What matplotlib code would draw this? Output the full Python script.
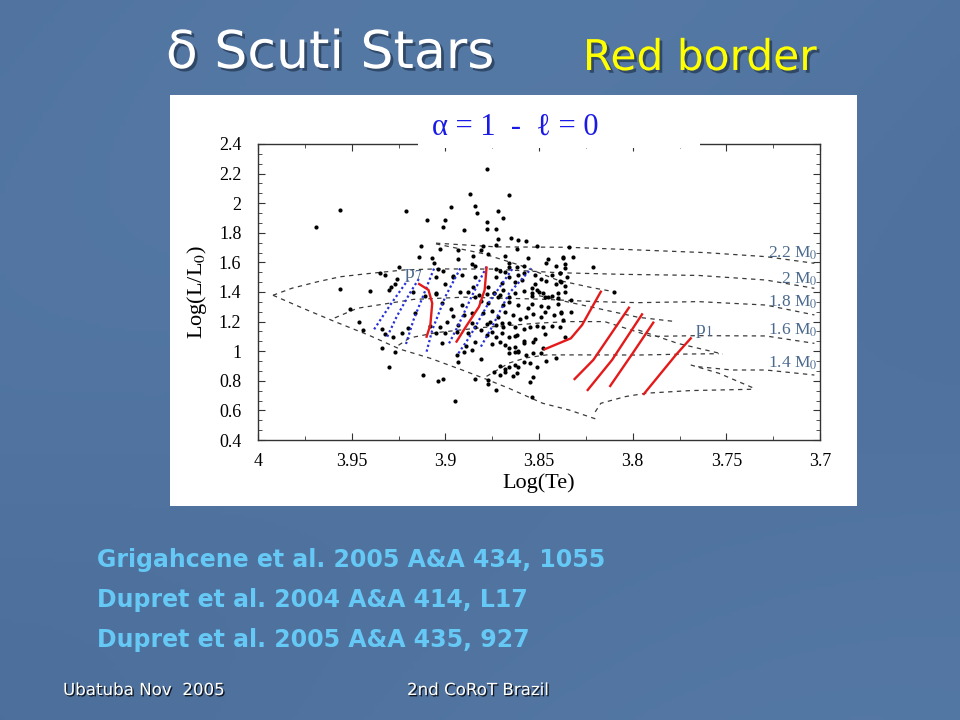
import numpy as np
import matplotlib
matplotlib.use("Agg")
import matplotlib.pyplot as plt
import matplotlib.patheffects as pe
from matplotlib.patches import Rectangle
from matplotlib.ticker import MultipleLocator, FormatStrFormatter

plt.rcParams['mathtext.fontset'] = 'stix'
SERIF = ['Liberation Serif', 'DejaVu Serif']

# observed delta Scuti stars (log Te, log L/Lsun), grouped by region of the diagram
stars_left = [(3.956, 1.956), (3.969, 1.839), (3.921, 1.949), (3.925, 1.571), (3.935, 1.526),
              (3.932, 1.515), (3.926, 1.486), (3.927, 1.454), (3.929, 1.436), (3.930, 1.414),
              (3.956, 1.418), (3.940, 1.409), (3.951, 1.287), (3.946, 1.199), (3.944, 1.143),
              (3.934, 1.148), (3.932, 1.114), (3.928, 1.096), (3.934, 1.020), (3.927, 0.993),
              (3.930, 0.895), (3.923, 1.121), (3.920, 1.159), (3.916, 1.256)]
stars_top = [(3.878, 2.229), (3.887, 2.064), (3.866, 2.053), (3.897, 1.972), (3.884, 1.981),
             (3.883, 1.932), (3.872, 1.947), (3.869, 1.902), (3.910, 1.884), (3.900, 1.886),
             (3.901, 1.841), (3.878, 1.871), (3.890, 1.819), (3.878, 1.824), (3.873, 1.824),
             (3.872, 1.760), (3.865, 1.765), (3.861, 1.751), (3.857, 1.742), (3.851, 1.711),
             (3.913, 1.713), (3.903, 1.689), (3.893, 1.684), (3.880, 1.713), (3.873, 1.716),
             (3.881, 1.684), (3.862, 1.689)]
stars_upper = [(3.914, 1.639), (3.907, 1.628), (3.893, 1.625), (3.885, 1.645), (3.877, 1.657),
               (3.868, 1.645), (3.856, 1.628), (3.845, 1.625), (3.837, 1.634), (3.906, 1.598),
               (3.886, 1.589), (3.884, 1.576), (3.866, 1.598), (3.862, 1.571), (3.858, 1.576),
               (3.846, 1.598), (3.841, 1.576), (3.836, 1.589), (3.904, 1.557), (3.901, 1.544),
               (3.896, 1.508), (3.891, 1.515), (3.905, 1.499), (3.900, 1.454), (3.896, 1.499),
               (3.873, 1.553), (3.871, 1.542), (3.866, 1.567), (3.868, 1.537), (3.873, 1.503),
               (3.866, 1.499), (3.861, 1.515), (3.858, 1.530), (3.863, 1.470), (3.859, 1.481),
               (3.852, 1.515), (3.849, 1.486), (3.852, 1.454), (3.846, 1.476), (3.843, 1.515),
               (3.839, 1.530), (3.841, 1.454), (3.838, 1.470), (3.835, 1.503), (3.870, 1.459),
               (3.877, 1.432), (3.874, 1.395), (3.869, 1.414), (3.872, 1.368), (3.854, 1.425),
               (3.851, 1.414), (3.848, 1.391), (3.854, 1.373), (3.845, 1.368), (3.840, 1.395),
               (3.884, 1.503), (3.885, 1.436), (3.882, 1.380), (3.892, 1.402), (3.905, 1.391)]
stars_core = [(3.917, 1.402), (3.911, 1.375), (3.905, 1.384), (3.888, 1.402), (3.884, 1.368),
              (3.878, 1.386), (3.874, 1.395), (3.871, 1.380), (3.866, 1.364), (3.863, 1.391),
              (3.858, 1.407), (3.854, 1.391), (3.850, 1.402), (3.847, 1.368), (3.843, 1.373),
              (3.840, 1.357), (3.836, 1.402), (3.902, 1.323), (3.897, 1.285), (3.891, 1.312),
              (3.881, 1.341), (3.877, 1.323), (3.869, 1.312), (3.866, 1.335), (3.861, 1.312),
              (3.856, 1.290), (3.854, 1.319), (3.849, 1.305), (3.845, 1.301), (3.840, 1.319),
              (3.838, 1.260), (3.896, 1.238), (3.890, 1.245), (3.886, 1.260), (3.880, 1.256),
              (3.875, 1.274), (3.872, 1.233), (3.868, 1.267), (3.864, 1.245), (3.860, 1.215),
              (3.857, 1.233), (3.853, 1.251), (3.849, 1.233), (3.847, 1.267), (3.842, 1.245),
              (3.908, 1.170), (3.903, 1.166), (3.899, 1.200), (3.893, 1.177), (3.886, 1.193),
              (3.884, 1.166), (3.878, 1.184), (3.876, 1.200), (3.873, 1.177), (3.870, 1.188),
              (3.869, 1.166), (3.866, 1.193), (3.863, 1.166), (3.858, 1.148), (3.855, 1.161),
              (3.851, 1.170), (3.848, 1.161), (3.843, 1.170), (3.839, 1.166), (3.905, 1.125),
              (3.900, 1.121), (3.894, 1.132), (3.888, 1.125), (3.881, 1.143), (3.878, 1.109),
              (3.875, 1.132), (3.873, 1.098), (3.870, 1.121), (3.866, 1.098), (3.863, 1.103),
              (3.862, 1.109), (3.858, 1.071), (3.852, 1.080), (3.847, 1.116)]
stars_lower = [(3.902, 1.058), (3.889, 1.035), (3.884, 1.064), (3.875, 1.049), (3.871, 1.064),
               (3.868, 1.042), (3.866, 1.019), (3.863, 1.031), (3.861, 1.004), (3.858, 1.058),
               (3.853, 1.064), (3.848, 1.019), (3.894, 0.974), (3.890, 0.997), (3.886, 1.008),
               (3.881, 0.945), (3.866, 0.986), (3.863, 0.997), (3.861, 0.997), (3.857, 0.974),
               (3.853, 0.986), (3.849, 0.990), (3.846, 0.936), (3.841, 0.952), (3.893, 0.929),
               (3.871, 0.900), (3.868, 0.877), (3.866, 0.891), (3.863, 0.907), (3.861, 0.891),
               (3.858, 0.929), (3.855, 0.918), (3.851, 0.896), (3.912, 0.839), (3.904, 0.799),
               (3.901, 0.810), (3.884, 0.812), (3.877, 0.805), (3.874, 0.862), (3.871, 0.839),
               (3.868, 0.862), (3.864, 0.832), (3.862, 0.850), (3.853, 0.823), (3.855, 0.794),
               (3.877, 0.778), (3.873, 0.738), (3.895, 0.666), (3.854, 0.693)]
stars_right = [(3.834, 1.702), (3.837, 1.627), (3.832, 1.634), (3.839, 1.526), (3.836, 1.560),
               (3.839, 1.477), (3.836, 1.441), (3.821, 1.571), (3.833, 1.346), (3.838, 1.267),
               (3.833, 1.267), (3.837, 1.211), (3.836, 1.094), (3.810, 1.402)]

# evolutionary tracks and ZAMS (dashed)
zams = [(3.992, 1.378), (3.976, 1.290), (3.959, 1.200), (3.941, 1.109), (3.924, 1.013),
        (3.908, 0.952), (3.891, 0.873), (3.878, 0.810), (3.866, 0.749), (3.848, 0.648),
        (3.834, 0.603), (3.818, 0.535)]
track_22 = [(3.905, 1.730), (3.873, 1.705), (3.834, 1.702), (3.797, 1.684), (3.761, 1.666),
            (3.729, 1.639), (3.703, 1.594)]
track_22_end = [(3.905, 1.725), (3.880, 1.660), (3.860, 1.580), (3.840, 1.480), (3.822, 1.430),
                (3.810, 1.402)]
track_20 = [(3.992, 1.378), (3.982, 1.425), (3.968, 1.470), (3.956, 1.503), (3.943, 1.522),
            (3.922, 1.549), (3.905, 1.556), (3.875, 1.555), (3.839, 1.530), (3.804, 1.519),
            (3.765, 1.512), (3.729, 1.481), (3.703, 1.425)]
track_18 = [(3.959, 1.225), (3.947, 1.290), (3.936, 1.312), (3.917, 1.350), (3.890, 1.365),
            (3.850, 1.352), (3.820, 1.335), (3.797, 1.328), (3.765, 1.335), (3.729, 1.312),
            (3.703, 1.245)]
track_18_end = [(3.850, 1.375), (3.823, 1.301), (3.797, 1.229), (3.777, 1.200)]
track_16 = [(3.925, 1.040), (3.919, 1.090), (3.905, 1.125), (3.880, 1.160), (3.850, 1.190),
            (3.834, 1.200), (3.815, 1.200), (3.790, 1.100), (3.765, 1.105), (3.729, 1.103),
            (3.703, 1.053)]
track_16_end = [(3.797, 1.143), (3.776, 1.053), (3.752, 0.981)]
track_14 = [(3.878, 0.830), (3.866, 0.920), (3.857, 0.955), (3.846, 0.975), (3.820, 0.975),
            (3.797, 0.974), (3.770, 0.981), (3.754, 0.983)]
track_14_edge = [(3.765, 0.895), (3.747, 0.873), (3.729, 0.873), (3.703, 0.839)]
track_14_end = [(3.769, 0.907), (3.754, 0.851), (3.734, 0.743)]
track_low = [(3.820, 0.590), (3.817, 0.648), (3.804, 0.693), (3.793, 0.716), (3.769, 0.734),
             (3.735, 0.743)]
tracks = [zams, track_22, track_22_end, track_20, track_18, track_18_end, track_16,
          track_16_end, track_14, track_14_edge, track_14_end, track_low]

# blue edges of modes p1..p7 (dotted)
blue_1 = [(3.938, 1.148), (3.929, 1.320), (3.920, 1.481)]
blue_2 = [(3.931, 1.098), (3.926, 1.233), (3.919, 1.391), (3.914, 1.492)]
blue_3 = [(3.921, 1.049), (3.917, 1.211), (3.912, 1.369), (3.906, 1.560)]
blue_4 = [(3.910, 0.997), (3.907, 1.143), (3.900, 1.369), (3.892, 1.560)]
blue_5 = [(3.898, 1.053), (3.893, 1.177), (3.886, 1.369), (3.878, 1.571)]
blue_6 = [(3.893, 0.986), (3.887, 1.098), (3.877, 1.324), (3.864, 1.560)]
blue_7 = [(3.881, 1.031), (3.875, 1.166), (3.866, 1.391), (3.854, 1.560)]
blue_edges = [blue_1, blue_2, blue_3, blue_4, blue_5, blue_6, blue_7]

# red edges (solid)
red_1 = [(3.914, 1.454), (3.909, 1.414), (3.907, 1.324), (3.908, 1.177), (3.910, 1.098)]
red_2 = [(3.894, 1.065), (3.889, 1.166), (3.882, 1.301), (3.879, 1.414), (3.878, 1.565)]
red_3 = [(3.847, 1.013), (3.833, 1.087), (3.827, 1.177), (3.822, 1.290), (3.818, 1.380),
         (3.817, 1.402)]
red_4 = [(3.831, 0.812), (3.821, 0.941), (3.802, 1.294)]
red_5 = [(3.824, 0.738), (3.811, 0.941), (3.795, 1.249)]
red_6 = [(3.812, 0.765), (3.800, 0.986), (3.789, 1.193)]
red_7 = [(3.794, 0.711), (3.777, 0.974), (3.769, 1.087)]
red_edges = [red_1, red_2, red_3, red_4, red_5, red_6, red_7]

mass_labels = ['2.2', '2', '1.8', '1.6', '1.4']
mass_label_logl = [1.661, 1.486, 1.328, 1.143, 0.918]

references = ['Grigahcene et al. 2005 A&A 434, 1055',
              'Dupret et al. 2004 A&A 414, L17',
              'Dupret et al. 2005 A&A 435, 927']

fig = plt.figure(figsize=(9.6, 7.2), dpi=100)

# slide background
bg = fig.add_axes([0, 0, 1, 1], zorder=-2)
yy, xx = np.mgrid[0:1:200j, 0:1:200j]
shade = 0.5 + 0.25 * np.sin(3.0 * xx + 2.0 * yy) * np.cos(2.5 * yy)
top = np.array([70, 104, 148]) / 255
mid = np.array([90, 126, 170]) / 255
img = top[None, None, :] * (1 - shade[..., None]) + mid[None, None, :] * shade[..., None]
bg.imshow(img, extent=[0, 1, 0, 1], aspect='auto')
bg.axis('off')

# white panel behind the chart
fig.patches.append(Rectangle((170 / 960, 1 - 506 / 720), 687 / 960, 411 / 720,
                             transform=fig.transFigure, facecolor='white',
                             edgecolor='none', zorder=-1))

ax = fig.add_axes([258 / 960, 1 - 440 / 720, 562 / 960, 296 / 720])
for pts in tracks:
    t, l = zip(*pts)
    ax.plot(t, l, color='#3a3a3a', lw=0.9, ls=(0, (3.5, 3.5)), zorder=2)
for pts in blue_edges:
    t, l = zip(*pts)
    ax.plot(t, l, color='#2630d8', lw=1.6, ls=(0, (1, 1.2)), zorder=4)
for pts in red_edges:
    t, l = zip(*pts)
    ax.plot(t, l, color='#e41a1a', lw=1.7, zorder=4)
for group in [stars_left, stars_top, stars_upper, stars_core, stars_lower, stars_right]:
    t, l = zip(*group)
    ax.scatter(t, l, s=9, c='black', linewidths=0, zorder=3)

ax.set_xlim(4.0, 3.7)
ax.set_ylim(0.4, 2.4)
ax.xaxis.set_major_locator(MultipleLocator(0.05))
ax.xaxis.set_minor_locator(MultipleLocator(0.025))
ax.yaxis.set_major_locator(MultipleLocator(0.2))
ax.yaxis.set_minor_locator(MultipleLocator(0.2 / 3))
ax.xaxis.set_major_formatter(FormatStrFormatter('%g'))
ax.yaxis.set_major_formatter(FormatStrFormatter('%g'))
ax.tick_params(which='both', direction='in', top=True, right=True, color='#333333')
ax.tick_params(which='major', length=5)
ax.tick_params(which='minor', length=3)
ax.tick_params(axis='x', which='major', pad=9)
ax.tick_params(axis='y', which='major', pad=12)
for lab in ax.get_xticklabels() + ax.get_yticklabels():
    lab.set_family(SERIF)
    lab.set_fontsize(13)
for s in ax.spines.values():
    s.set_color('#333333')
    s.set_linewidth(1.0)
ax.set_xlabel('Log(Te)', family=SERIF, fontsize=16, labelpad=3)
ax.set_ylabel(r'Log(L/L$_0$)', family=SERIF, fontsize=16, labelpad=7)

label_col = '#4b6a8e'
for m, l in zip(mass_labels, mass_label_logl):
    ax.text(3.7015, l, m + r' M$_0$', family=SERIF, fontsize=12.5, color=label_col,
            ha='right', va='center', zorder=5)
ax.text(3.917, 1.51, r'p$_7$', family=SERIF, fontsize=14, color=label_col,
        ha='center', va='center', zorder=5)
ax.text(3.762, 1.13, r'p$_1$', family=SERIF, fontsize=14, color=label_col,
        ha='center', va='center', zorder=5)

# white box with the model parameters, covering the top frame
fig.patches.append(Rectangle((418 / 960, 1 - 148 / 720), 282 / 960, 46 / 720,
                             transform=fig.transFigure, facecolor='white',
                             edgecolor='none', zorder=1))
fig.text(515 / 960, 1 - 127 / 720, '\u03b1 = 1  -  \u2113 = 0', family=SERIF,
         fontsize=22, color='#1a1ae6', ha='center', va='center')

shadow = [pe.withSimplePatchShadow(offset=(2, -2), shadow_rgbFace='#1a2a40', alpha=0.6)]
fig.text(330 / 960, 1 - 54 / 720, '\u03b4 Scuti Stars', fontsize=37.5, color='white',
         ha='center', va='center', path_effects=shadow)
fig.text(700 / 960, 1 - 58 / 720, 'Red border', fontsize=30.5, color='#ffff00',
         ha='center', va='center', path_effects=shadow)

for i, ref in enumerate(references):
    fig.text(97 / 960, 1 - (560 + 40 * i) / 720, ref, fontsize=17, fontweight='bold',
             color='#66c8f5', ha='left', va='center')

foot_shadow = [pe.withSimplePatchShadow(offset=(1, -1), shadow_rgbFace='black', alpha=0.8)]
fig.text(63 / 960, 1 - 690 / 720, 'Ubatuba Nov  2005', fontsize=12, color='white',
         ha='left', va='center', path_effects=foot_shadow)
fig.text(407 / 960, 1 - 690 / 720, '2nd CoRoT Brazil', fontsize=12, color='white',
         ha='left', va='center', path_effects=foot_shadow)

fig.savefig('out.png', dpi=100)
